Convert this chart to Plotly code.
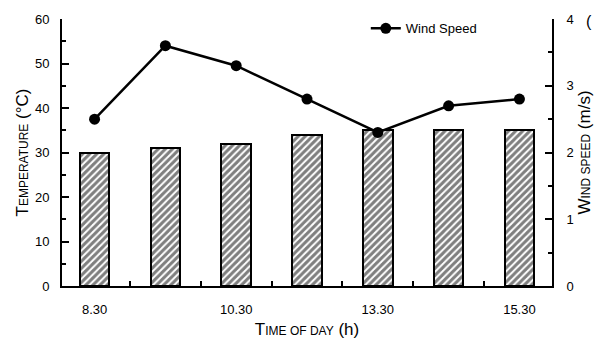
import plotly.graph_objects as go

# data
time_index = [1, 2, 3, 4, 5, 6, 7]
tick_positions = [1, 3, 5, 7]
tick_labels = ["8.30", "10.30", "13.30", "15.30"]
minor_tick_positions = [1.5, 2.5, 3.5, 4.5, 5.5, 6.5]
temperature = [30, 31, 32, 34, 35, 35, 35]
wind_speed = [2.5, 3.6, 3.3, 2.8, 2.3, 2.7, 2.8]

FONT = "Liberation Sans, Arial, sans-serif"

fig = go.Figure()
fig.add_trace(go.Bar(
    x=time_index, y=temperature, width=0.42, name="Temperature",
    showlegend=False,
    marker=dict(color="white", line=dict(color="black", width=2),
                pattern=dict(shape="/", fgcolor="black", bgcolor="white",
                             size=5, solidity=0.6, fillmode="overlay")),
))
fig.add_trace(go.Scatter(
    x=time_index, y=wind_speed, yaxis="y2", name="Wind Speed",
    mode="lines+markers", line=dict(color="black", width=2.5),
    marker=dict(color="black", size=11),
))

big = 17
small = 12

def sc(first, rest, tail):
    return (f"<span style='font-size:{big}px'>{first}</span>"
            f"<span style='font-size:{small}px'>{rest}</span>"
            f"<span style='font-size:{big}px'>{tail}</span>")

fig.update_layout(
    width=603, height=350,
    margin=dict(l=62, r=42, t=13, b=64),
    plot_bgcolor="white", paper_bgcolor="white",
    font=dict(family=FONT, color="black", size=13),
    bargap=0,
    xaxis=dict(
        range=[0.54, 7.46], showline=True, linecolor="black", linewidth=2,
        showgrid=False, zeroline=False,
        tickmode="array", tickvals=tick_positions, ticktext=tick_labels,
        ticks="", ticklabelstandoff=10,
        minor=dict(tickmode="array", tickvals=minor_tick_positions,
                   ticks="inside", ticklen=5, tickwidth=1.5, tickcolor="black"),
        title=dict(text=sc("T", "IME OF DAY", " (h)"), standoff=8),
    ),
    yaxis=dict(
        range=[0, 60], dtick=10, showline=True, linecolor="black", linewidth=2,
        showgrid=False, zeroline=False, ticks="inside", ticklen=7,
        tickwidth=1.5, tickcolor="black", ticklabelstandoff=8,
        minor=dict(dtick=5, ticks="inside", ticklen=4, tickwidth=1.5,
                   tickcolor="black"),
        title=dict(text=sc("T", "EMPERATURE", " (°C)"), standoff=2),
    ),
    yaxis2=dict(
        range=[0, 4], dtick=1, overlaying="y", side="right",
        showline=True, linecolor="black", linewidth=2,
        showgrid=False, zeroline=False, ticks="inside", ticklen=7,
        tickwidth=1.5, tickcolor="black", ticklabelstandoff=10,
        minor=dict(dtick=0.5, ticks="inside", ticklen=4, tickwidth=1.5,
                   tickcolor="black"),
        title=dict(text=sc("W", "IND SPEED", " (m/s)"), standoff=6),
    ),
    legend=dict(x=0.62, y=0.965, xanchor="left", yanchor="middle",
                bgcolor="rgba(0,0,0,0)", font=dict(size=13)),
)

fig.add_annotation(text="(", xref="paper", yref="paper", x=1.0,
                   xshift=32, y=1.0, yshift=8, xanchor="left", yanchor="top",
                   showarrow=False, font=dict(size=16, family=FONT))

fig.write_html("out.html")
